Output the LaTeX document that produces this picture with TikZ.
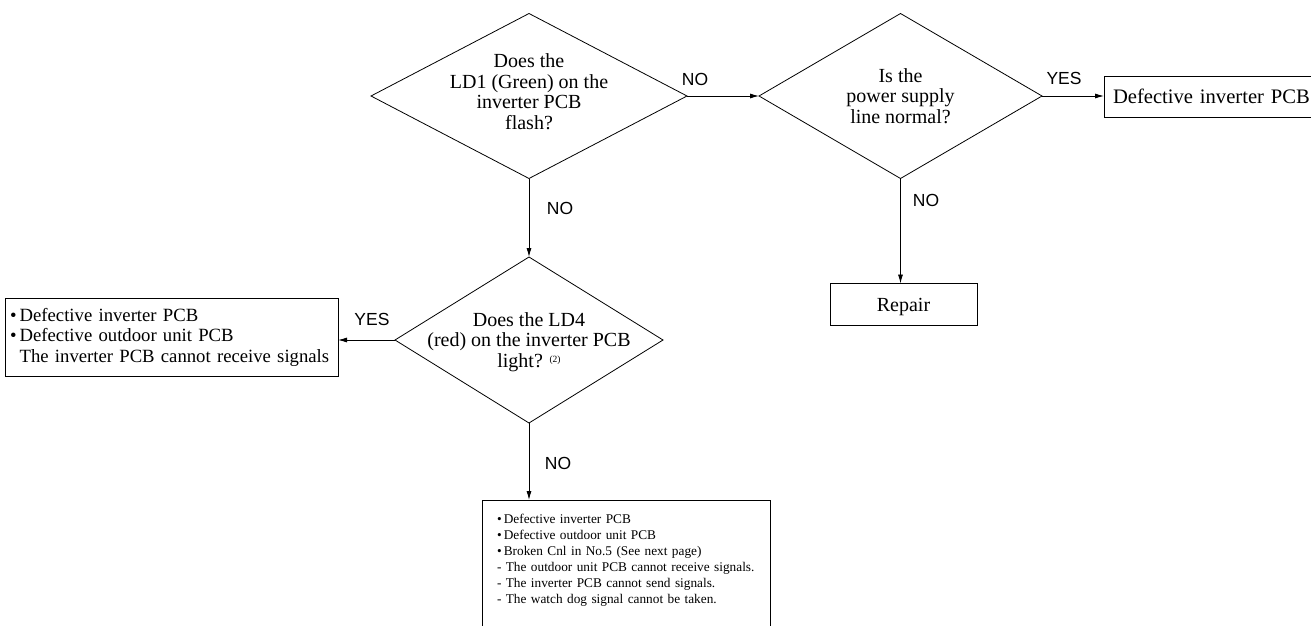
\documentclass[tikz,border=0pt]{standalone}
\usepackage{fontspec}
\setmainfont{Liberation Serif}
\newfontfamily\labelfont{Liberation Sans}
\usetikzlibrary{shapes.geometric,arrows.meta}
\newcommand\dtext[2][0pt]{\smash{\makebox[0pt]{\raisebox{#1}{\begin{tabular}{@{}c@{}}#2\end{tabular}}}}}
\begin{document}
\begin{tikzpicture}[x=1pt,y=-1pt,
  every node/.style={inner sep=0pt, outer sep=0pt},
  dia/.style={diamond, draw, line width=0.8pt, font=\fontsize{20}{20.7}\selectfont},
  box/.style={draw, line width=0.8pt, rectangle},
  lab/.style={font=\labelfont\fontsize{17.5}{17.5}\selectfont},
  arr/.style={draw, line width=0.8pt, -{Latex[length=9pt,width=5pt]}},
]
\useasboundingbox (0,0) rectangle (1311,626);
\clip (0,0) rectangle (1311,626);

\node[dia, minimum width=316pt, minimum height=165pt] (d1) at (529,96)
  {\dtext[-3.5pt]{Does the\\LD1 (Green) on the\\inverter PCB\\flash?}};
\node[dia, minimum width=283pt, minimum height=165pt] (d2) at (900.5,96)
  {\dtext[-8pt]{Is the\\power supply\\line normal?}};
\node[dia, minimum width=268pt, minimum height=166pt] (d3) at (529,340)
  {\dtext[-8pt]{Does the LD4\\(red) on the inverter PCB\\light? {\fontsize{9.5}{9.5}\selectfont\raisebox{5pt}{(2)}}}};

\node[box, anchor=west, text width=200pt, inner xsep=9pt, minimum height=41pt,
  align=left, font=\fontsize{20.6}{20.6}\selectfont] (b1) at (1104,96.5) {Defective inverter PCB};
\node[box, minimum width=147pt, minimum height=42pt, text depth=0pt,
  font=\fontsize{20}{20}\selectfont] (rep) at (903.5,304.5) {Repair};
\node[box, anchor=north west, text width=323pt, inner xsep=5pt, minimum height=78pt,
  align=left, font=\fontsize{18.7}{20.5}\selectfont] (b2) at (5,298)
  {\mbox{\textbullet\,Defective inverter PCB}\\
   \mbox{\textbullet\,Defective outdoor unit PCB}\\
   \mbox{\phantom{\textbullet\,}The inverter PCB cannot receive signals}};
\node[box, anchor=north west, text width=258pt, inner xsep=15pt, inner ysep=14pt,
  align=left, font=\fontsize{13.3}{16}\selectfont] (b3) at (482,500)
  {\textbullet\,Defective inverter PCB\\
   \textbullet\,Defective outdoor unit PCB\\
   \textbullet\,Broken Cnl in No.5 (See next page)\\
   - The outdoor unit PCB cannot receive signals.\\
   - The inverter PCB cannot send signals.\\
   - The watch dog signal cannot be taken.\\
   \rule{0pt}{30pt}};

\node[lab] (n1) at (695,79) {NO};
\node[lab] (y1) at (1064,78) {YES};
\node[lab] (n2) at (560,208) {NO};
\node[lab] (n3) at (926,200) {NO};
\node[lab] (y2) at (372,319) {YES};
\node[lab] (n4) at (558,463) {NO};

\draw[arr] (d1.east) -- (d2.west);
\draw[arr] (d2.east) -- (d2.east -| b1.west);
\draw[arr] (d1.south) -- (d3.north);
\draw[arr] (d2.south) -- (d2.south |- rep.north);
\draw[arr] (d3.west) -- (d3.west -| b2.east);
\draw[arr] (d3.south) -- (d3.south |- b3.north);
\end{tikzpicture}
\end{document}
